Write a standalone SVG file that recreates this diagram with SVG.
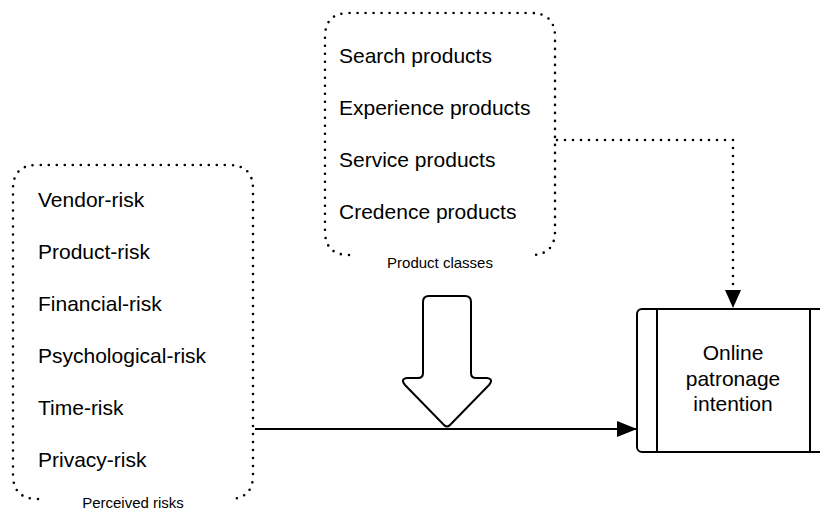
<svg xmlns="http://www.w3.org/2000/svg" width="820" height="514" viewBox="0 0 820 514">
<defs>
<style>
.dot{fill:none;stroke:#000;stroke-width:2.6;stroke-dasharray:0 8;stroke-linecap:round}
.item{font-family:"Liberation Sans",Arial,sans-serif;font-size:21px;fill:#000}
.cap{font-family:"Liberation Sans",Arial,sans-serif;font-size:15px;fill:#000;text-anchor:middle}
.solid{fill:none;stroke:#000;stroke-width:2}
</style>
<marker id="ah" viewBox="0 0 20 16" refX="20" refY="8" markerWidth="20" markerHeight="16" markerUnits="userSpaceOnUse" orient="auto">
<path d="M0 0 L20 8 L0 16 Z" fill="#000"/>
</marker>
</defs>
<rect width="820" height="514" fill="#fff"/>
<g id="perceived-risks">
<path class="dot" d="M 38 499 Q 13 499 13 475 L 13 189 Q 13 165 37 165 L 229 165 Q 253 165 253 189 L 253 475 Q 253 499 229 499"/>
<text class="item" x="38" y="207">Vendor-risk</text>
<text class="item" x="38" y="259">Product-risk</text>
<text class="item" x="38" y="311">Financial-risk</text>
<text class="item" x="38" y="363">Psychological-risk</text>
<text class="item" x="38" y="415">Time-risk</text>
<text class="item" x="38" y="467">Privacy-risk</text>
<text class="cap" x="133" y="508">Perceived risks</text>
</g>
<g id="product-classes">
<path class="dot" d="M 349 255 Q 325 255 325 231 L 325 37 Q 325 13 349 13 L 531 13 Q 555 13 555 37 L 555 231 Q 555 255 531 255"/>
<text class="item" x="339" y="63">Search products</text>
<text class="item" x="339" y="115">Experience products</text>
<text class="item" x="339" y="167">Service products</text>
<text class="item" x="339" y="219">Credence products</text>
<text class="cap" x="440" y="268">Product classes</text>
</g>
<g id="big-arrow">
<path d="M 429 296 L 465 296 Q 471 296 471 302 L 471 373 Q 471 378 476 378 L 487 378 Q 494 379 489 385 L 450 425 Q 447 428 444 425 L 405 385 Q 400 379 407 378 L 418 378 Q 423 378 423 373 L 423 302 Q 423 296 429 296 Z" fill="#fff" stroke="#000" stroke-width="2" stroke-linejoin="round"/>
</g>
<g id="online-patronage-intention">
<rect x="637" y="309" width="195" height="143" rx="5" fill="#fff" stroke="#000" stroke-width="2"/>
<line x1="657" y1="309" x2="657" y2="452" stroke="#000" stroke-width="2"/>
<line x1="810" y1="309" x2="810" y2="452" stroke="#000" stroke-width="2"/>
<text class="item" x="733" y="360" text-anchor="middle">Online</text>
<text class="item" x="733" y="386" text-anchor="middle">patronage</text>
<text class="item" x="733" y="411" text-anchor="middle">intention</text>
</g>
<g id="connectors">
<path class="solid" d="M 255 429 L 637 429" marker-end="url(#ah)"/>
<path class="dot" d="M 557 140 L 733 140 L 733 292"/>
<path d="M 725 290 L 741 290 L 733 308 Z" fill="#000"/>
</g>
</svg>
